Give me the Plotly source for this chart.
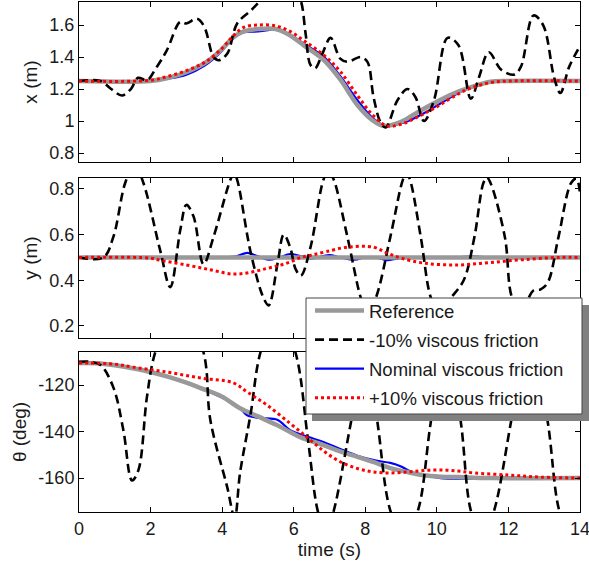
import plotly.graph_objects as go
from plotly.subplots import make_subplots

# ---------------- data ----------------
# x (m)
t_ref_x = [0, 2.0, 2.5, 3.0, 3.5, 4.0, 4.3, 4.6, 5.0, 5.5, 5.9, 6.3, 6.85, 7.3, 7.78, 8.2, 8.5, 9.0, 9.5, 10.0, 10.5, 11.0, 11.5, 12.0, 14]
x_ref = [1.25, 1.25, 1.27, 1.305, 1.36, 1.45, 1.52, 1.56, 1.575, 1.575, 1.535, 1.47, 1.38, 1.26, 1.10, 1.005, 0.97, 0.995, 1.06, 1.12, 1.175, 1.215, 1.245, 1.25, 1.25]

t_neg_x = [0, 0.6, 0.9, 1.2, 1.45, 1.65, 1.9, 2.15, 2.45, 2.83, 3.0, 3.3, 3.5, 3.76, 3.9, 4.14, 4.42, 4.8, 5.1, 5.6, 6.0, 6.2, 6.33, 6.47, 6.6, 6.8, 7.03, 7.3, 7.5, 7.87, 8.06, 8.23, 8.43, 8.57, 8.9, 9.18, 9.4, 9.64, 9.92, 10.3, 10.6, 10.95, 11.18, 11.45, 11.8, 12.16, 12.35, 12.7, 12.97, 13.28, 13.45, 13.7, 14.0]
x_neg = [1.25, 1.25, 1.20, 1.16, 1.20, 1.27, 1.255, 1.33, 1.44, 1.62, 1.61, 1.64, 1.59, 1.40, 1.38, 1.42, 1.61, 1.69, 1.76, 1.86, 1.83, 1.75, 1.55, 1.35, 1.33, 1.42, 1.52, 1.39, 1.37, 1.40, 1.37, 1.15, 0.99, 0.96, 1.13, 1.20, 1.15, 1.00, 1.13, 1.52, 1.475, 1.14, 1.275, 1.43, 1.32, 1.29, 1.34, 1.66, 1.60, 1.27, 1.175, 1.34, 1.47]

t_nom_x = [0, 2.0, 2.5, 3.0, 3.5, 4.0, 4.3, 4.6, 5.0, 5.5, 5.9, 6.3, 6.85, 7.3, 7.78, 8.2, 8.5, 8.8, 9.2, 9.65, 10.1, 10.6, 11.0, 11.5, 12.0, 14]
x_nom = [1.25, 1.25, 1.265, 1.29, 1.345, 1.44, 1.52, 1.555, 1.56, 1.57, 1.54, 1.48, 1.40, 1.28, 1.13, 1.02, 0.975, 0.975, 1.0, 1.05, 1.11, 1.175, 1.215, 1.245, 1.25, 1.25]

t_pos_x = [0, 2.0, 2.5, 3.0, 3.5, 4.0, 4.3, 4.6, 5.0, 5.5, 5.9, 6.3, 6.85, 7.3, 7.78, 8.2, 8.6, 9.0, 9.5, 10.0, 10.6, 11.0, 11.5, 12.0, 14]
x_pos = [1.25, 1.255, 1.28, 1.315, 1.365, 1.455, 1.53, 1.585, 1.60, 1.595, 1.56, 1.50, 1.41, 1.31, 1.16, 1.04, 0.97, 0.98, 1.03, 1.09, 1.17, 1.21, 1.24, 1.25, 1.25]

# y (m)
t_ref_y = [0, 14]
y_ref = [0.5, 0.5]

t_neg_y = [0, 0.68, 0.96, 1.29, 1.55, 1.8, 2.27, 2.55, 2.83, 3.0, 3.2, 3.48, 3.76, 4.23, 4.33, 4.42, 4.8, 5.15, 5.3, 5.55, 5.72, 5.9, 6.05, 6.2, 6.47, 6.83, 6.97, 7.12, 7.5, 7.87, 8.05, 8.3, 8.7, 9.05, 9.15, 9.25, 9.55, 9.83, 10.05, 10.4, 10.75, 11.05, 11.3, 11.4, 11.5, 11.9, 12.1, 12.35, 12.7, 12.9, 13.1, 13.4, 13.75, 13.9, 14.0]
y_neg = [0.5, 0.5, 0.59, 0.826, 0.91, 0.826, 0.53, 0.37, 0.62, 0.73, 0.68, 0.47, 0.59, 0.84, 0.87, 0.84, 0.52, 0.325, 0.29, 0.475, 0.60, 0.545, 0.45, 0.42, 0.545, 0.84, 0.88, 0.84, 0.59, 0.325, 0.25, 0.325, 0.59, 0.84, 0.87, 0.84, 0.59, 0.325, 0.26, 0.325, 0.40, 0.59, 0.826, 0.85, 0.826, 0.59, 0.325, 0.27, 0.355, 0.36, 0.39, 0.59, 0.826, 0.845, 0.78]

t_nom_y = [0, 4.0, 4.4, 4.7, 5.0, 5.3, 5.6, 5.9, 6.2, 6.5, 6.8, 7.0, 7.3, 7.7, 8.0, 8.3, 8.6, 8.9, 9.2, 10.5, 11.0, 11.5, 14]
y_nom = [0.5, 0.5, 0.505, 0.52, 0.505, 0.49, 0.5, 0.515, 0.505, 0.495, 0.505, 0.51, 0.5, 0.49, 0.5, 0.5, 0.488, 0.495, 0.5, 0.5, 0.505, 0.5, 0.5]

t_pos_y = [0, 2.0, 2.2, 3.0, 3.7, 4.3, 4.8, 5.25, 5.6, 5.9, 6.2, 6.5, 6.9, 7.5, 8.23, 8.6, 9.0, 9.64, 10.6, 11.5, 12.4, 13.4, 14]
y_pos = [0.5, 0.497, 0.49, 0.467, 0.445, 0.427, 0.435, 0.452, 0.465, 0.48, 0.5, 0.51, 0.525, 0.545, 0.545, 0.52, 0.497, 0.475, 0.467, 0.478, 0.49, 0.5, 0.5]

# theta (deg)
t_ref_th = [0, 0.5, 1.0, 1.5, 2.0, 2.5, 3.0, 3.4, 4.0, 4.5, 5.0, 5.5, 5.9, 6.2, 6.83, 7.3, 7.8, 8.3, 8.7, 9.2, 9.6, 10.1, 10.6, 11.5, 14]
th_ref = [-110.5, -110.6, -111.5, -112.8, -114.4, -116.5, -119, -121.3, -125, -130, -133.5, -137, -140.2, -142.5, -145.8, -148.5, -151, -153.5, -155.7, -157.5, -158.7, -159.4, -159.6, -160, -160]

t_neg_th = [0, 0.3, 0.6, 0.96, 1.24, 1.48, 1.66, 1.9, 2.13, 2.8, 3.48, 3.67, 4.14, 4.35, 4.5, 4.8, 5.07, 5.55, 6.05, 6.4, 6.67, 6.9, 7.12, 7.6, 8.02, 8.34, 8.7, 9.08, 9.47, 9.83, 10.25, 10.67, 10.95, 11.28, 11.6, 12.07, 12.58, 13.1, 13.42, 13.75, 14.0]
th_neg = [-110, -110, -111.4, -121, -139.4, -161, -156.6, -125, -106, -82, -106, -135, -163.8, -177, -157.8, -132, -106, -88, -106, -143.7, -174, -184, -174, -136, -102, -136, -174, -186, -174, -136, -98, -136, -174, -186, -174, -136, -92, -136, -174, -186, -178]

t_nom_th = [0, 1, 2, 3, 3.5, 3.95, 4.3, 4.5, 4.7, 5.07, 5.55, 5.9, 6.4, 6.83, 7.3, 7.8, 8.3, 8.7, 9.0, 9.3, 9.6, 10.1, 10.75, 11.3, 11.5, 14]
th_nom = [-110.5, -111.5, -114.2, -119, -122, -125, -127.7, -130, -133, -134.2, -135, -139.4, -142.3, -144.5, -147.5, -150.5, -152.5, -153.5, -155, -157.5, -158.7, -160, -160.3, -160.2, -160, -160]

t_pos_th = [0, 1.0, 1.5, 2.45, 3.4, 4.3, 4.7, 5.25, 5.9, 6.4, 6.85, 7.3, 7.8, 8.23, 8.7, 9.18, 9.6, 10.1, 10.6, 11.05, 12.0, 12.9, 13.95, 14]
th_pos = [-110.5, -111, -112.3, -114.4, -117, -119, -123, -128.6, -136.5, -142.8, -148.5, -153, -156, -157.4, -157.8, -157.4, -156.8, -156.5, -157, -157.8, -158.7, -159.6, -160, -160]

names = ["Reference", "-10% viscous friction", "Nominal viscous friction", "+10% viscous friction"]

# tick values / labels
x_tickvals = [0, 2, 4, 6, 8, 10, 12, 14]
x_ticktext = ["0", "2", "4", "6", "8", "10", "12", "14"]
yx_tickvals = [0.8, 1.0, 1.2, 1.4, 1.6]
yx_ticktext = ["0.8", "1", "1.2", "1.4", "1.6"]
yy_tickvals = [0.2, 0.4, 0.6, 0.8]
yy_ticktext = ["0.2", "0.4", "0.6", "0.8"]
yth_tickvals = [-160, -140, -120]
yth_ticktext = ["-160", "-140", "-120"]

# ---------------- figure ----------------
FONT = "Liberation Sans, Arial, Helvetica, sans-serif"
TXT = "#1a1a1a"
W, H = 589, 565
ML, MR, MT, MB = 79, 9, 2, 53
PW, PH = W - ML - MR, H - MT - MB


def px2paper(px, py):
    return (px - ML) / PW, (H - MB - py) / PH


fig = make_subplots(rows=3, cols=1, shared_xaxes=False)

styles = {
    "ref": dict(color="#999999", width=4.5),
    "neg": dict(color="black", width=2.6, dash="9px,5px"),
    "nom": dict(color="#0000ff", width=2.2),
    "pos": dict(color="#ff0000", width=3, dash="3px,3px"),
}

panels = [
    (1, [("nom", t_nom_x, x_nom), ("ref", t_ref_x, x_ref), ("neg", t_neg_x, x_neg), ("pos", t_pos_x, x_pos)]),
    (2, [("nom", t_nom_y, y_nom), ("ref", t_ref_y, y_ref), ("neg", t_neg_y, y_neg), ("pos", t_pos_y, y_pos)]),
    (3, [("nom", t_nom_th, th_nom), ("ref", t_ref_th, th_ref), ("neg", t_neg_th, th_neg), ("pos", t_pos_th, th_pos)]),
]
rank = {"ref": 1, "neg": 2, "nom": 3, "pos": 4}
nm = {"ref": names[0], "neg": names[1], "nom": names[2], "pos": names[3]}
for row, series in panels:
    for key, tt, vv in series:
        fig.add_trace(go.Scatter(
            x=tt, y=vv, mode="lines", name=nm[key],
            line=dict(shape="spline", smoothing=1.0, **styles[key]),
            showlegend=(row == 1), legendrank=rank[key], legendgroup=key,
        ), row=row, col=1)

doms = [(0.6863, 1.0), (0.3412, 0.6549), (0.0, 0.3137)]
yranges = [[0.744, 1.744], [0.147, 0.848], [-174.6, -105.8]]
ytv = [(yx_tickvals, yx_ticktext), (yy_tickvals, yy_ticktext), (yth_tickvals, yth_ticktext)]
ytitles = ["x (m)", "y (m)", "θ (deg)"]

axcommon = dict(showline=True, linecolor="black", linewidth=1, mirror="allticks",
                ticks="inside", ticklen=5, tickcolor="black", showgrid=False,
                zeroline=False, automargin=False,
                tickfont=dict(family=FONT, size=18, color=TXT))
for i in range(3):
    r = i + 1
    fig.update_xaxes(range=[0, 14], tickvals=x_tickvals, ticktext=x_ticktext,
                     showticklabels=(r == 3), ticklabeloverflow="allow",
                     domain=[0, 1], row=r, col=1, **axcommon)
    fig.update_yaxes(range=yranges[i], tickvals=ytv[i][0], ticktext=ytv[i][1],
                     domain=list(doms[i]),
                     title=dict(text=ytitles[i], font=dict(family=FONT, size=19, color=TXT), standoff=6),
                     row=r, col=1, **axcommon)
fig.update_xaxes(title=dict(text="time (s)", font=dict(family=FONT, size=19, color=TXT), standoff=2), row=3, col=1)

# legend shadow and box (drawn as shapes, legend items sit on top)
sx0, sy1 = px2paper(312, 305)
sx1, sy0 = px2paper(589, 421)
fig.add_shape(type="rect", xref="paper", yref="paper", x0=sx0, x1=sx1, y0=sy0, y1=sy1,
              fillcolor="#808080", line=dict(width=0), layer="above")
bx0, by1 = px2paper(306, 298)
bx1, by0 = px2paper(582, 414)
fig.add_shape(type="rect", xref="paper", yref="paper", x0=bx0, x1=bx1, y0=by0, y1=by1,
              fillcolor="white", line=dict(color="#444", width=1), layer="above")

lx, ly = px2paper(310, 292)
fig.update_layout(
    width=W, height=H,
    margin=dict(l=ML, r=MR, t=MT, b=MB),
    paper_bgcolor="white", plot_bgcolor="white",
    font=dict(family=FONT, size=18, color=TXT),
    legend=dict(x=lx, y=ly, xanchor="left", yanchor="top",
                bgcolor="rgba(0,0,0,0)", borderwidth=0,
                font=dict(family=FONT, size=18.5, color=TXT),
                itemwidth=49, tracegroupgap=2, traceorder="grouped"),
)

fig.write_html("out.html")
